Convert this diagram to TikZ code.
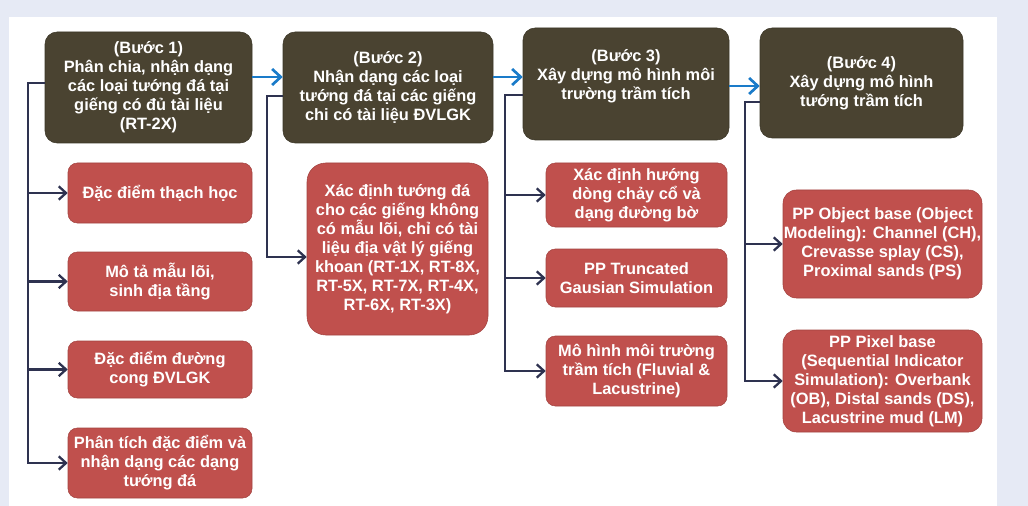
\documentclass[tikz,border=0pt]{standalone}
\usepackage{fontspec}
\setmainfont{Liberation Sans}
\usetikzlibrary{arrows.meta,calc}
\definecolor{bgc}{HTML}{E6EAF5}
\definecolor{darkbox}{HTML}{4A4331}
\definecolor{redbox}{HTML}{C0504D}
\definecolor{connc}{HTML}{2E3250}
\definecolor{bluec}{HTML}{1A7BC9}
\tikzset{
  w/.style={minimum width=#1*0.75pt},
  h/.style={minimum height=#1*0.75pt},
  basebox/.style={inner sep=0.5pt, align=center, text=white,
    font=\fontsize{12.3}{14.2}\selectfont\bfseries},
  darkbox/.style={basebox, fill=darkbox, draw=darkbox!80!black, line width=0.4pt, rounded corners=9pt},
  redbox/.style={basebox, fill=redbox, draw=redbox!85!black, line width=0.4pt, rounded corners=7pt},
  conn/.style={draw=connc, line width=1.7pt, -{Straight Barb[length=5.5pt,width=10pt,line width=1.7pt]}},
  bluearr/.style={draw=bluec, line width=2pt, -{Straight Barb[length=6.5pt,width=12pt,line width=2pt]}}
}
\begin{document}
\begin{tikzpicture}[x=0.75pt,y=-0.75pt]
\fill[bgc] (0,0) rectangle (1028,506);
\fill[white] (9,17) rectangle (997,506);
\useasboundingbox (0,0) rectangle (1028,506);

% step boxes
\node[darkbox,w=207,h=111] (b1) at (148.5,87.5) {(Bước 1)\\Phân chia, nhận dạng\\các loại tướng đá tại\\giếng có đủ tài liệu\\(RT-2X)};
\node[darkbox,w=210,h=111] (b2) at (388,87.5) {(Bước 2)\\Nhận dạng các loại\\tướng đá tại các giếng\\chi có tài liệu ĐVLGK};
\node[darkbox,w=206,h=112] (b3) at (626,84) {(Bước 3)\\Xây dựng mô hình môi\\trường trầm tích\\~};
\node[darkbox,w=203,h=110] (b4) at (861.5,83) {(Bước 4)\\Xây dựng mô hình\\tướng trầm tích};

% column 1
\node[redbox,w=184,h=60] (r11) at (160,193) {Đặc điểm thạch học};
\node[redbox,w=184,h=59] (r12) at (160,281.5) {Mô tả mẫu lõi,\\sinh địa tầng};
\node[redbox,w=184,h=57] (r13) at (160,369.5) {Đặc điểm đường\\cong ĐVLGK};
\node[redbox,w=184,h=70] (r14) at (160,463) {Phân tích đặc điểm và\\nhận dạng các dạng\\tướng đá};

% column 2
\node[redbox,w=181,h=172,rounded corners=14pt] (r21) at (397.5,249) {Xác định tướng đá\\cho các giếng không\\có mẫu lõi, chỉ có tài\\liệu địa vật lý giếng\\khoan (RT-1X, RT-8X,\\RT-5X, RT-7X, RT-4X,\\RT-6X, RT-3X)};

% column 3
\node[redbox,w=181,h=64] (r31) at (636.5,195) {Xác định hướng\\dòng chảy cổ và\\dạng đường bờ};
\node[redbox,w=181,h=58] (r32) at (636.5,278) {PP Truncated\\Gausian Simulation};
\node[redbox,w=181,h=70] (r33) at (636.5,371) {Mô hình môi trường\\trầm tích (Fluvial \&\\Lacustrine)};

% column 4
\node[redbox,w=199,h=108,rounded corners=10pt] (r41) at (882.5,244) {PP Object base (Object\\Modeling): Channel (CH),\\Crevasse splay (CS),\\Proximal sands (PS)};
\node[redbox,w=199,h=102,rounded corners=10pt] (r42) at (882.5,381) {PP Pixel base\\(Sequential Indicator\\Simulation): Overbank\\(OB), Distal sands (DS),\\Lacustrine mud (LM)};

% spines
\coordinate (s1) at (28,0);
\coordinate (s2) at (267,0);
\coordinate (s3) at (505,0);
\coordinate (s4) at (745,0);

% blue arrows between steps
\coordinate (y12) at (0,77);
\coordinate (y34) at (0,86);
\draw[bluearr] (b1.east |- y12) -- (b2.west |- y12);
\draw[bluearr] (b2.east |- y12) -- (b3.west |- y12);
\draw[bluearr] (b3.east |- y34) -- (b4.west |- y34);

% column 1 connectors
\draw[conn] ($(b1.west)+(0,-4.5)$) -| (s1 |- r14.west) -- (r14.west);
\foreach \r in {r11,r12,r13} \draw[conn] (s1 |- \r.west) -- (\r.west);

% column 2
\draw[conn] ($(b2.west)+(0,8.5)$) -| ($(s2 |- r21.west)+(0,8)$) -- ($(r21.west)+(0,8)$);

% column 3
\draw[conn] ($(b3.west)+(0,11)$) -| (s3 |- r33.west) -- (r33.west);
\foreach \r in {r31,r32} \draw[conn] (s3 |- \r.west) -- (\r.west);

% column 4
\draw[conn] ($(b4.west)+(0,19)$) -| (s4 |- r42.west) -- (r42.west);
\draw[conn] (s4 |- r41.west) -- (r41.west);
\end{tikzpicture}
\end{document}
